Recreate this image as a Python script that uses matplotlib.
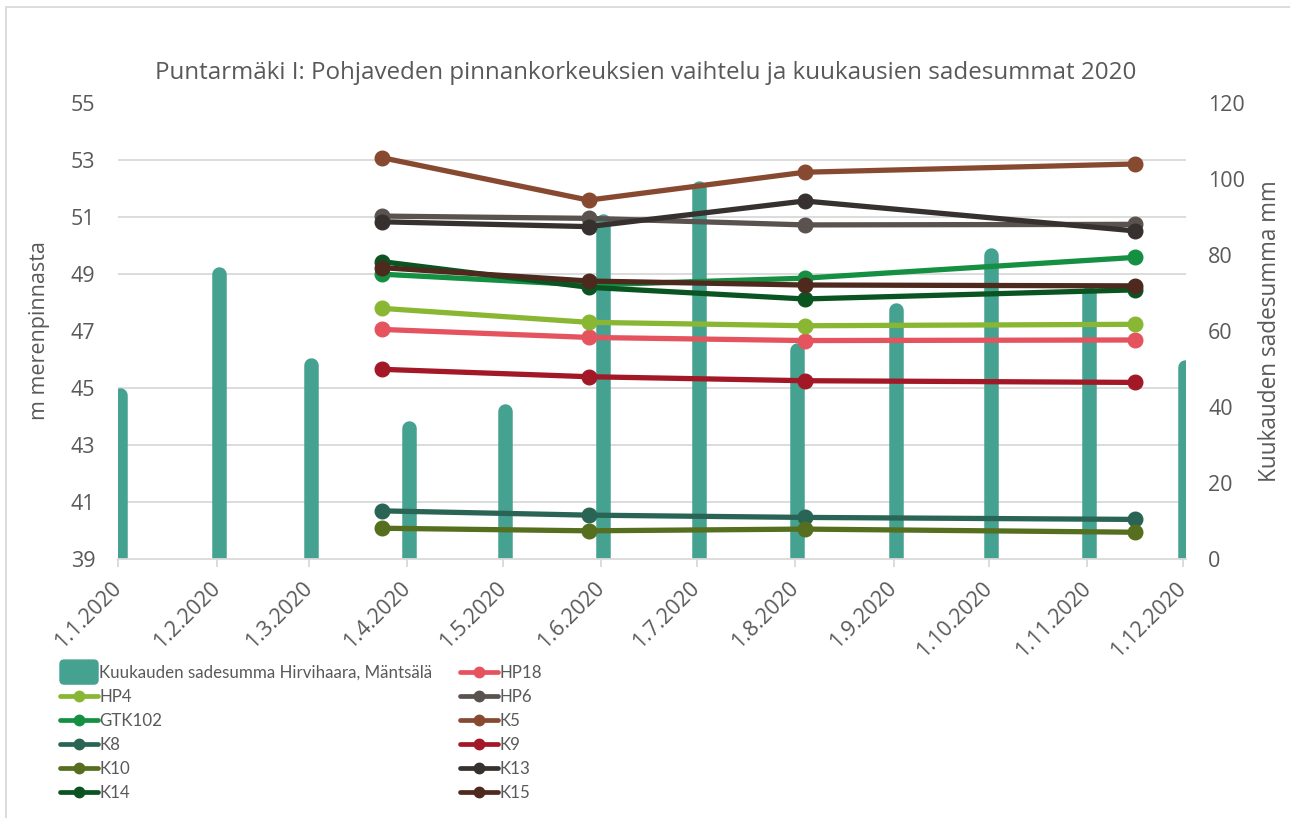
import matplotlib
matplotlib.use('Agg')
import matplotlib.pyplot as plt
import matplotlib.dates as mdates
import matplotlib.transforms as mtransforms
from matplotlib.patches import Rectangle, FancyBboxPatch
from matplotlib.lines import Line2D
from matplotlib.legend_handler import HandlerPatch
from matplotlib.ticker import FixedLocator, FuncFormatter
import numpy as np
import datetime as dt

# ---------------- data ----------------
rain_label = "Kuukauden sadesumma Hirvihaara, Mäntsälä"
rain_months = [dt.date(2020, m, 1) for m in range(1, 13)]
rain_mm = [45, 77, 53, 36.5, 41, 91, 99.5, 57, 67.5, 82, 72, 52.5]

obs_dates = [dt.date(2020, 3, 24), dt.date(2020, 5, 28), dt.date(2020, 8, 4), dt.date(2020, 11, 16)]

HP18 = [47.06, 46.78, 46.67, 46.69]
HP4 = [47.80, 47.31, 47.19, 47.24]
HP6 = [51.04, 50.96, 50.73, 50.75]
GTK102 = [49.00, 48.62, 48.86, 49.59]
K5 = [53.09, 51.60, 52.58, 52.87]
K8 = [40.69, 40.54, 40.46, 40.39]
K9 = [45.66, 45.40, 45.26, 45.20]
K10 = [40.08, 39.99, 40.05, 39.94]
K13 = [50.84, 50.67, 51.57, 50.52]
K14 = [49.44, 48.54, 48.13, 48.45]
K15 = [49.23, 48.76, 48.62, 48.59]

series_names = ["HP18", "HP4", "HP6", "GTK102", "K5", "K8", "K9", "K10", "K13", "K14", "K15"]
series_values = [HP18, HP4, HP6, GTK102, K5, K8, K9, K10, K13, K14, K15]
series_colors = ["#E5535F", "#8AB733", "#5A524E", "#158F42", "#874A30", "#2A6455",
                 "#A31826", "#556F1F", "#36312E", "#0A5421", "#4E2A1E"]
rain_color = "#45A190"

title = "Puntarmäki I: Pohjaveden pinnankorkeuksien vaihtelu ja kuukausien sadesummat 2020"
left_label = "m merenpinnasta"
right_label = "Kuukauden sadesumma mm"

# ---------------- style ----------------
plt.rcParams['font.family'] = ['Open Sans', 'DejaVu Sans']
TXT = '#595959'
GRID = '#D9D9D9'
FS = 15.5

W, H = 1290, 818
fig = plt.figure(figsize=(W / 100, H / 100), dpi=100)

def fx(px):
    return px / W

def fy(py):
    return 1 - py / H

# chart border
fig.patches.append(Rectangle((fx(6), -0.1), 1.2, fy(7) + 0.1, transform=fig.transFigure,
                             fill=False, edgecolor=GRID, lw=1.3))

L, R, T, B = 118.3, 1186, 103.3, 559
ax = fig.add_axes([fx(L), fy(B), (R - L) / W, (B - T) / H])
ax2 = ax.twinx()
ax.set_zorder(2)
ax2.set_zorder(1)
ax.patch.set_visible(False)

# rain bars (background axis) - rounded-top columns
BAR_PX = 14.5
bar_x = [mdates.date2num(d) + 0.6 for d in rain_months]
shift = mtransforms.ScaledTranslation(0, -BAR_PX / 2 / 100, fig.dpi_scale_trans)
ax2.vlines(bar_x, 0, rain_mm, colors=rain_color, linewidth=BAR_PX * 72 / 100,
           capstyle='round', transform=ax2.transData + shift, zorder=2, label=rain_label)
ax2.set_xlim(mdates.date2num(dt.date(2020, 1, 1)), mdates.date2num(dt.date(2020, 12, 2)))
ax2.set_ylim(0, 120)
ax2.set_yticks(np.arange(0, 121, 20))
ax2.yaxis.set_minor_locator(FixedLocator(np.arange(0, 121, 15)))
ax2.grid(which='minor', axis='y', color=GRID, lw=1.3, zorder=0)
ax2.set_axisbelow(True)
ax2.tick_params(axis='y', which='both', length=0, labelsize=FS, labelcolor=TXT, pad=16)
for s in ax2.spines.values():
    s.set_visible(False)

# level lines
handles = {}
for name, vals, col in zip(series_names, series_values, series_colors):
    ax.plot(obs_dates, vals, color=col, lw=3.8, marker='o', ms=10.5,
            solid_joinstyle='round', solid_capstyle='round', label=name)
    handles[name] = Line2D([], [], color=col, lw=3.4, marker='o', ms=7.5,
                           solid_capstyle='round')

ax.set_ylim(39, 55)
ax.set_yticks(np.arange(39, 56, 2))
ax.set_xlim(mdates.date2num(dt.date(2020, 1, 1)), mdates.date2num(dt.date(2020, 12, 2)))
ax.xaxis.set_major_locator(mdates.MonthLocator())

def datefmt(x, pos):
    d = mdates.num2date(x)
    return f"{d.day}.{d.month}.{d.year}"

ax.xaxis.set_major_formatter(FuncFormatter(datefmt))
ax.tick_params(axis='y', length=0, labelsize=FS, labelcolor=TXT, pad=16.5)
ax.tick_params(axis='x', length=6, width=1.3, color=GRID, labelsize=FS, labelcolor=TXT, pad=13)
for lab in ax.get_xticklabels():
    lab.set_rotation(45)
    lab.set_ha('right')
    lab.set_va('center')
    lab.set_rotation_mode('anchor')
for k, s in ax.spines.items():
    s.set_visible(k == 'bottom')
ax.spines['bottom'].set_color(GRID)
ax.spines['bottom'].set_linewidth(1.3)

# texts
fig.text(fx(646), fy(73), title, ha='center', va='center', fontsize=17.4, color=TXT)
fig.text(fx(40), fy(331), left_label, ha='center', va='center', rotation=90, fontsize=FS, color=TXT)
fig.text(fx(1270), fy(331), right_label, ha='center', va='center', rotation=90, fontsize=16.3, color=TXT)

# legend
rain_handle = Rectangle((0, 0), 1, 1, color=rain_color)

def make_box(legend, orig_handle, xdescent, ydescent, width, height, fontsize):
    h = 24 * 72 / 100
    return FancyBboxPatch((-xdescent, -ydescent - (h - height) / 2), width, h,
                          boxstyle='round,pad=0,rounding_size=3')

col1 = [(rain_handle, rain_label), (handles['HP4'], 'HP4'), (handles['GTK102'], 'GTK102'),
        (handles['K8'], 'K8'), (handles['K10'], 'K10'), (handles['K14'], 'K14')]
col2 = [(handles['HP18'], 'HP18'), (handles['HP6'], 'HP6'), (handles['K5'], 'K5'),
        (handles['K9'], 'K9'), (handles['K13'], 'K13'), (handles['K15'], 'K15')]

LFS = 12.2
leg_kw = dict(frameon=False, loc='upper left', borderpad=0, borderaxespad=0,
              handlelength=38 / (LFS * 100 / 72), handletextpad=0.08, labelspacing=0.47,
              prop={'family': ['Lato', 'Open Sans'], 'size': LFS},
              labelcolor=TXT, bbox_transform=fig.transFigure,
              handler_map={Rectangle: HandlerPatch(patch_func=make_box)})
lg1 = fig.legend([h for h, _ in col1], [t for _, t in col1],
                 bbox_to_anchor=(fx(60), fy(665)), **leg_kw)
lg2 = fig.legend([h for h, _ in col2], [t for _, t in col2],
                 bbox_to_anchor=(fx(460), fy(665)), **leg_kw)

fig.savefig('out.png', dpi=100)
